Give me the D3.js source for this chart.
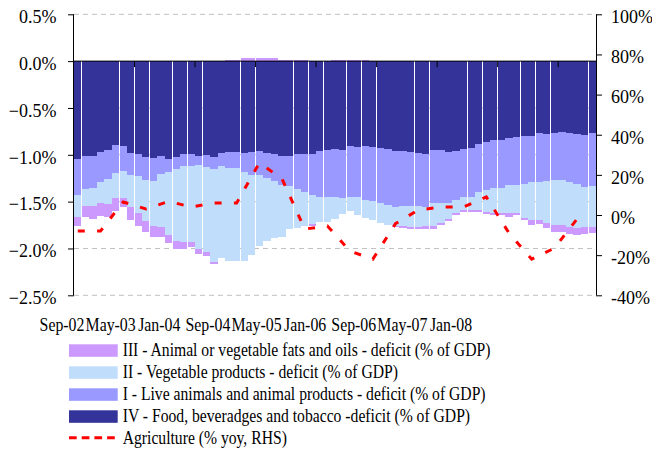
<!DOCTYPE html>
<html>
<head>
<meta charset="utf-8">
<script src="https://cdn.jsdelivr.net/npm/d3@7"></script>
<style>
  html, body { margin: 0; padding: 0; background: #fff; }
  svg { display: block; font-family: "Liberation Serif", "Times New Roman", serif; }
</style>
</head>
<body>
<svg id="chart" width="652" height="451"></svg>
<script>
// Monthly categories, Sep-02 .. May-08
const months = d3.timeMonth.range(new Date(2002, 8, 1), new Date(2008, 5, 1)).map(d3.timeFormat("%b-%y"));

// Deficits, % of GDP (negative = deficit)
const foodBevTobacco = [
  -1.046, -1.014, -1.014, -0.968, -0.950, -0.893, -0.904, -0.985, -0.993, -1.021,
  -1.039, -1.010, -1.046, -1.021, -0.990, -0.993, -1.010, -1.000, -1.021, -0.978,
  -0.968, -0.970, -0.978, -0.968, -0.957, -0.985, -0.996, -1.014, -1.014, -0.996,
  -0.993, -0.993, -0.961, -0.945, -0.939, -0.950, -0.907, -0.914, -0.907, -0.914,
  -0.932, -0.943, -0.961, -0.961, -0.975, -0.985, -0.996, -0.950, -0.950, -0.968,
  -0.961, -0.935, -0.925, -0.889, -0.864, -0.843, -0.843, -0.825, -0.808, -0.800,
  -0.795, -0.765, -0.779, -0.765, -0.752, -0.770, -0.775, -0.793, -0.772
];
const liveAnimals = [
  -0.384, -0.356, -0.338, -0.320, -0.313, -0.299, -0.270, -0.231, -0.235, -0.249,
  -0.242, -0.196, -0.135, -0.135, -0.132, -0.128, -0.100, -0.128, -0.128, -0.142,
  -0.171, -0.170, -0.204, -0.243, -0.254, -0.263, -0.281, -0.311, -0.314, -0.370,
  -0.402, -0.438, -0.487, -0.509, -0.512, -0.509, -0.544, -0.537, -0.576, -0.580,
  -0.587, -0.594, -0.594, -0.587, -0.569, -0.562, -0.559, -0.569, -0.569, -0.551,
  -0.523, -0.513, -0.523, -0.506, -0.512, -0.509, -0.509, -0.498, -0.515, -0.512,
  -0.496, -0.521, -0.502, -0.505, -0.519, -0.523, -0.540, -0.547, -0.560
];
const vegetable = [
  -0.231, -0.178, -0.196, -0.231, -0.263, -0.270, -0.288, -0.338, -0.398, -0.438,
  -0.480, -0.569, -0.679, -0.761, -0.811, -0.808, -0.896, -0.910, -0.993, -0.985,
  -0.996, -0.997, -0.953, -0.855, -0.768, -0.672, -0.608, -0.552, -0.462, -0.413,
  -0.363, -0.306, -0.274, -0.267, -0.235, -0.174, -0.149, -0.192, -0.196, -0.203,
  -0.213, -0.213, -0.203, -0.213, -0.228, -0.224, -0.205, -0.240, -0.213, -0.167,
  -0.142, -0.142, -0.142, -0.195, -0.238, -0.273, -0.273, -0.302, -0.302, -0.360,
  -0.406, -0.411, -0.451, -0.480, -0.480, -0.475, -0.470, -0.435, -0.436
];
const fatsOils = [
  -0.096, -0.114, -0.139, -0.135, -0.142, -0.135, -0.100, -0.142, -0.135, -0.114,
  -0.117, -0.103, -0.085, -0.085, -0.075, -0.053, -0.053, -0.046, -0.025, 0.000,
   0.010,  0.010,  0.032,  0.032,  0.032,  0.032,  0.032,  0.010,  0.010,  0.010,
   0.010, -0.021,  0.000,  0.000,  0.010,  0.010,  0.010,  0.010,  0.010,  0.000,
   0.000,  0.000, -0.010, -0.018, -0.021, -0.021, -0.030, -0.030, -0.018, -0.021,
  -0.018, -0.018, -0.018, -0.018, -0.018, -0.018, -0.018, -0.036, -0.018, -0.025,
  -0.053, -0.046, -0.053, -0.071, -0.071, -0.080, -0.075, -0.073, -0.070
];

// Agriculture, % yoy (quarterly, right-hand scale)
const agriQuarters = [
  "Sep-02", "Dec-02", "Mar-03", "Jun-03", "Sep-03", "Dec-03", "Mar-04", "Jun-04",
  "Sep-04", "Dec-04", "Mar-05", "Jun-05", "Sep-05", "Dec-05", "Mar-06", "Jun-06",
  "Sep-06", "Dec-06", "Mar-07", "Jun-07", "Sep-07", "Dec-07", "Mar-08"
];
const agriculture = [
  -8, -8, 6.5, 3, 6.8, 4, 6, 6,
  26, 18, -7, -5.5, -18, -22, -4.3, 2.5,
  4, 4, 9, -9, -22, -16.5, -2
];

const xTickLabels = ["Sep-02", "May-03", "Jan-04", "Sep-04", "May-05", "Jan-06", "Sep-06", "May-07", "Jan-08"];
const leftTicks = [0.5, 0.0, -0.5, -1.0, -1.5, -2.0, -2.5];
const rightTicks = [100, 80, 60, 40, 20, 0, -20, -40];

const seriesKeys = ["IV", "I", "II", "III"];
const seriesColors = { IV: "#333399", I: "#9999FF", II: "#C0DEFB", III: "#CC99FF" };
const legendItems = [
  { key: "III", label: "III - Animal or vegetable fats and oils - deficit (% of GDP)" },
  { key: "II", label: "II - Vegetable products - deficit (% of GDP)" },
  { key: "I", label: "I - Live animals and animal products - deficit (% of GDP)" },
  { key: "IV", label: "IV - Food, beveradges and tobacco -deficit (% of GDP)" },
  { key: "AGR", label: "Agriculture (% yoy, RHS)" }
];

const rows = months.map((m, i) => ({
  month: m, IV: foodBevTobacco[i], I: liveAnimals[i], II: vegetable[i], III: fatsOils[i]
}));

const plot = { left: 74, right: 596, top: 14.3, bottom: 295.3 };

const svg = d3.select("#chart");

const x = d3.scaleBand().domain(months).range([plot.left, plot.right]).paddingInner(0.045).paddingOuter(0.0225);
const y = d3.scaleLinear().domain([-2.5, 0.5]).range([plot.bottom, plot.top]);
const yR = d3.scaleLinear().domain([-40, 100]).range([plot.bottom, plot.top]);
const labelX = d3.scalePoint().domain(xTickLabels).range([62, 451]);

// Gridlines
svg.append("g")
  .selectAll("line")
  .data(leftTicks.filter(t => t !== 0))
  .join("line")
  .attr("x1", plot.left).attr("x2", plot.right)
  .attr("y1", d => y(d)).attr("y2", d => y(d))
  .attr("stroke", "#c0c0c0").attr("stroke-width", 1)
  .attr("stroke-dasharray", "5,4");

// Stacked bars
const stacked = d3.stack().keys(seriesKeys).offset(d3.stackOffsetDiverging)(rows);
svg.append("g")
  .attr("shape-rendering", "crispEdges")
  .selectAll("g")
  .data(stacked)
  .join("g")
  .attr("fill", d => seriesColors[d.key])
  .selectAll("rect")
  .data(d => d)
  .join("rect")
  .attr("x", d => x(d.data.month))
  .attr("width", x.bandwidth())
  .attr("y", d => y(Math.max(d[0], d[1])))
  .attr("height", d => Math.abs(y(d[0]) - y(d[1])));

// Zero line with category ticks
svg.append("line")
  .attr("x1", plot.left).attr("x2", plot.right)
  .attr("y1", y(0)).attr("y2", y(0))
  .attr("stroke", "#000").attr("stroke-width", 1);

const step = x.step();
svg.append("g")
  .selectAll("line")
  .data(months.filter((m, i) => i > 0 && i % 8 === 0))
  .join("line")
  .attr("x1", d => x(d) - step * x.paddingInner() / 2)
  .attr("x2", d => x(d) - step * x.paddingInner() / 2)
  .attr("y1", y(0)).attr("y2", y(0) + 6)
  .attr("stroke", "#000").attr("stroke-width", 1);

// Left axis
const leftAxis = d3.axisLeft(y).tickValues(leftTicks).tickSize(6).tickPadding(4)
  .tickFormat(d => d3.format(".1%")(d / 100));
const gL = svg.append("g").attr("transform", `translate(${plot.left},0)`).call(leftAxis);
gL.select(".domain").attr("d", `M-0.5,${plot.top}V${plot.bottom}`).attr("stroke", "#000");
gL.selectAll(".tick line").attr("stroke", "#000");
gL.selectAll(".tick text")
  .attr("font-family", "Liberation Serif, Times New Roman, serif")
  .attr("font-size", 18).attr("fill", "#000")
  .attr("dy", "0.46em").attr("x", -17.5);

// Right axis
const rightAxis = d3.axisRight(yR).tickValues(rightTicks).tickSize(6).tickPadding(4)
  .tickFormat(d => d + "%");
const gR = svg.append("g").attr("transform", `translate(${plot.right},0)`).call(rightAxis);
gR.select(".domain").attr("d", `M0.5,${plot.top}V${plot.bottom}`).attr("stroke", "#000");
gR.selectAll(".tick line").attr("stroke", "#000");
gR.selectAll(".tick text")
  .attr("font-family", "Liberation Serif, Times New Roman, serif")
  .attr("font-size", 18).attr("fill", "#000")
  .attr("dy", "0.46em").attr("x", 15);

// Agriculture line (RHS)
const agri = agriQuarters.map((q, i) => ({ month: q, value: agriculture[i] }));
const line = d3.line()
  .x(d => x(d.month) + x.bandwidth() / 2)
  .y(d => yR(d.value));
svg.append("path")
  .datum(agri)
  .attr("d", line)
  .attr("fill", "none")
  .attr("stroke", "#FF0000")
  .attr("stroke-width", 3)
  .attr("stroke-dasharray", "7,12.3");

// Category labels
svg.append("g")
  .selectAll("text")
  .data(xTickLabels)
  .join("text")
  .attr("transform", d => `translate(${labelX(d)},331) scale(0.88,1)`)
  .attr("text-anchor", "middle")
  .attr("font-size", 18)
  .attr("fill", "#000")
  .text(d => d);

// Legend
const legend = svg.append("g");
const rowY = i => 356.3 + 22 * i;
legendItems.forEach((item, i) => {
  const by = rowY(i);
  if (item.key === "AGR") {
    legend.append("line")
      .attr("x1", 69).attr("x2", 118)
      .attr("y1", by - 6.5).attr("y2", by - 6.5)
      .attr("stroke", "#FF0000").attr("stroke-width", 3)
      .attr("stroke-dasharray", "7.7,5");
  } else {
    legend.append("rect")
      .attr("x", 69).attr("y", by - 12)
      .attr("width", 48.7).attr("height", 12.5)
      .attr("fill", seriesColors[item.key]);
  }
  legend.append("text")
    .attr("transform", `translate(122.7,${by}) scale(0.87,1)`)
    .attr("font-size", 18)
    .attr("fill", "#000")
    .text(item.label);
});
</script>
</body>
</html>
